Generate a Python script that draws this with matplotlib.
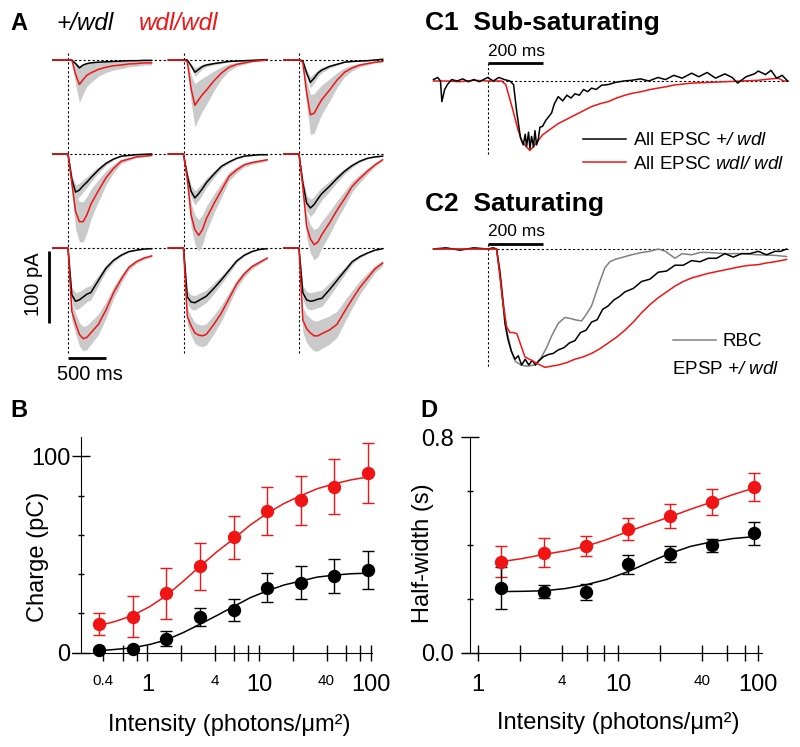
import matplotlib
matplotlib.use("Agg")
import matplotlib.pyplot as plt
import numpy as np
from matplotlib.ticker import FixedLocator, NullLocator

plt.rcParams['font.family'] = ['Liberation Sans', 'DejaVu Sans']
# only the genotype parts of labels go through mathtext -> render them all italic
plt.rcParams['mathtext.fontset'] = 'custom'
plt.rcParams['mathtext.rm'] = 'Liberation Sans:italic'
plt.rcParams['mathtext.it'] = 'Liberation Sans:italic'

RED = '#f01414'
BAND = '#cacaca'

# ---------------- panel A: mean EPSCs, 9 flash strengths (pA, inward = positive depth)
a_time = [-200, 0, 50, 100, 150, 200, 250, 300, 400, 500, 600, 700, 800, 900, 1000, 1100]
a_het = [
    [0, 0, 0, 5, 11, 7, 5, 4, 3, 2.5, 2, 1.5, 1, 1, 0.5, 0.5],
    [0, 0, 0, 8, 17, 13, 9, 7, 5, 3.5, 2, 1.5, 1, 0.5, 0, -0.5],
    [0, 0, 1, 18, 31, 25, 18, 14, 9, 6, 3, 2, 1.5, 1, 0, -1],
    [0, 0, 35, 53, 50, 44, 39, 33, 22, 13, 7, 3, 2, 1, 0.5, 0],
    [0, 0, 30, 52, 61, 55, 48, 40, 28, 17, 11, 6, 3, 2, 1, 1],
    [0, 0, 40, 68, 75, 70, 62, 55, 45, 34, 24, 16, 10, 6, 4, 3],
    [0, 0, 65, 74, 72, 68, 64, 62, 45, 28, 17, 10, 5, 3, 1.5, 1],
    [0, 0, 68, 75, 76, 73, 70, 67, 56, 44, 31, 18, 10, 5, 2, 1],
    [0, 0, 62, 72, 74, 73, 71, 70, 58, 45, 32, 19, 12, 7, 3, 1],
]
a_mut = [
    [0, 0, 0, 20, 34, 27, 21, 18, 13, 10, 8, 7, 5.5, 5, 4, 4],
    [0, 0, 2, 40, 63, 55, 48, 42, 29, 18, 10, 6, 4, 2, 1, 0],
    [0, 0, 3, 45, 76, 74, 64, 55, 42, 28, 17, 11, 7, 5, 3, 2],
    [0, 0, 40, 80, 94, 94, 84, 70, 51, 33, 20, 10, 7, 4, 3, 2],
    [0, 0, 35, 85, 105, 113, 105, 90, 69, 50, 31, 22, 15, 12, 10, 8],
    [0, 0, 45, 100, 118, 126, 122, 112, 96, 78, 62, 45, 34, 24, 15, 8],
    [0, 0, 88, 105, 120, 126, 124, 118, 106, 86, 62, 43, 27, 19, 14, 11],
    [0, 0, 95, 108, 118, 121, 122, 120, 106, 90, 70, 50, 36, 26, 20, 14],
    [0, 0, 100, 112, 118, 122, 122, 119, 114, 106, 88, 71, 55, 42, 29, 21],
]
a_het_sem = [4, 6, 8, 10, 10, 12, 12, 10, 12]
a_mut_sem = [25, 30, 28, 28, 22, 21, 17, 15, 21]

# ---------------- panel C: normalised traces (peak = -1)
c1_het_t = [-195, -180, -170, -165, -155, -145, -130, -110, -90, -70, -50, -30, -10, 0, 20, 40, 60, 80,
            93, 105, 118, 128, 135, 140, 147, 152, 158, 165, 170, 176, 182, 188, 197, 210, 220, 230,
            240, 254, 270, 285, 300, 314, 330, 345, 360, 374, 390, 410, 434, 460, 490, 518, 550, 580,
            613, 640, 670, 700, 734, 760, 790, 820, 854, 880, 900, 930, 960, 974, 1000, 1020, 1040,
            1060, 1080]
c1_het = [0.02, 0.05, 0.0, -0.29, -0.12, -0.05, 0.02, 0.0, 0.03, -0.01, 0.02, -0.01, 0.03, 0.05, 0.0,
          0.05, 0.02, 0.0, -0.05, -0.45, -0.8, -0.9, -0.75, -0.92, -0.72, -0.95, -0.78, -0.93, -0.7,
          -0.9, -0.82, -0.65, -0.64, -0.55, -0.5, -0.45, -0.32, -0.22, -0.28, -0.2, -0.24, -0.18, -0.2,
          -0.12, -0.15, -0.1, -0.12, -0.06, -0.05, -0.02, 0.0, 0.01, 0.03, 0.0, 0.05, 0.02, 0.08, 0.04,
          0.11, 0.06, 0.12, 0.04, 0.1, 0.05, -0.03, 0.06, 0.1, 0.14, 0.09, 0.15, 0.04, 0.08, 0.0]
c1_mut_t = [-195, -150, -100, -50, 0, 50, 65, 90, 110, 124, 140, 152, 165, 180, 197, 225, 254, 284,
            314, 344, 374, 404, 434, 464, 494, 524, 554, 584, 613, 643, 673, 734, 794, 854, 914, 974,
            1020, 1046, 1065, 1080]
c1_mut = [0.0, 0.0, -0.01, 0.01, 0.0, 0.0, -0.05, -0.4, -0.7, -0.85, -0.93, -0.98, -0.92, -0.85, -0.76,
          -0.68, -0.6, -0.54, -0.48, -0.42, -0.36, -0.32, -0.29, -0.24, -0.2, -0.17, -0.15, -0.12, -0.1,
          -0.08, -0.056, -0.03, -0.02, -0.01, 0.0, 0.01, 0.03, 0.04, 0.0, 0.0]

c2_het_t = [-195, -150, -100, -50, 0, 20, 32, 44, 56, 62, 73, 85, 98, 110, 122, 135, 148, 160, 172, 182,
            200, 218, 236, 254, 275, 294, 314, 334, 354, 374, 394, 414, 434, 454, 474, 494, 524, 554,
            584, 614, 644, 674, 704, 734, 764, 794, 824, 854, 884, 914, 944, 974, 1004, 1034, 1055, 1076]
c2_het = [0.0, 0.01, -0.01, 0.01, 0.0, 0.01, 0.0, -0.21, -0.49, -0.64, -0.78, -0.88, -0.95, -0.92, -1.0,
          -0.95, -1.0, -0.96, -1.0, -0.97, -0.93, -0.91, -0.9, -0.87, -0.85, -0.81, -0.79, -0.72, -0.7,
          -0.63, -0.61, -0.52, -0.49, -0.44, -0.41, -0.37, -0.34, -0.28, -0.26, -0.2, -0.19, -0.14,
          -0.14, -0.1, -0.11, -0.08, -0.08, -0.04, -0.07, -0.04, -0.04, -0.02, -0.05, -0.02, -0.02, 0.0]
c2_mut_t = [-195, -100, 0, 32, 44, 56, 68, 80, 92, 105, 118, 134, 158, 180, 206, 230, 254, 284, 314,
            344, 374, 404, 434, 464, 494, 524, 554, 584, 614, 644, 674, 704, 734, 764, 794, 824, 854,
            884, 914, 944, 974, 1004, 1034, 1055, 1076]
c2_mut = [0.0, 0.0, 0.0, 0.0, -0.24, -0.49, -0.67, -0.72, -0.72, -0.73, -0.82, -0.93, -0.96, -0.99,
          -1.02, -1.01, -1.0, -0.98, -0.95, -0.93, -0.9, -0.86, -0.81, -0.76, -0.7, -0.63, -0.55, -0.48,
          -0.42, -0.37, -0.32, -0.28, -0.25, -0.23, -0.21, -0.195, -0.18, -0.165, -0.15, -0.14, -0.135,
          -0.12, -0.11, -0.1, -0.09]
c2_rbc_t = [-195, -100, 0, 32, 44, 56, 70, 85, 100, 120, 140, 170, 194, 212, 230, 254, 278, 300, 314,
            338, 356, 374, 398, 422, 440, 458, 488, 518, 554, 584, 614, 640, 674, 700, 734, 764, 794,
            854, 914, 974, 1034, 1076]
c2_rbc = [0.0, 0.0, 0.0, 0.0, -0.18, -0.45, -0.72, -0.88, -0.97, -1.0, -1.01, -1.0, -0.93, -0.85,
          -0.75, -0.64, -0.59, -0.6, -0.61, -0.62, -0.56, -0.49, -0.32, -0.16, -0.11, -0.09, -0.07,
          -0.05, -0.03, -0.02, 0.0, -0.02, -0.08, -0.04, -0.05, -0.03, -0.03, -0.04, -0.04, -0.05,
          -0.055, -0.065]

# ---------------- panel B: charge vs intensity
b_int = [0.37, 0.74, 1.47, 2.95, 5.9, 11.8, 23.6, 47, 94]
b_het = [1.4, 1.7, 7.0, 18.1, 21.8, 33.2, 35.7, 39.1, 42.2]
b_het_err = [0.5, 0.5, 3.8, 4.7, 5.7, 7.3, 8.5, 8.5, 9.8]
b_mut = [14.6, 18.4, 30.3, 43.9, 58.7, 72.3, 77.6, 84.4, 91.5]
b_mut_err = [5.5, 10.5, 13, 12, 11, 12.3, 12.5, 14, 15.5]
b_fit_x = [0.37, 0.52, 0.74, 1.05, 1.47, 2.1, 2.95, 4.2, 5.9, 8.3, 11.8, 16.7, 23.6, 33, 47, 66, 94]
b_fit_mut = [13.8, 16, 19, 23.5, 29, 36.5, 44, 51.5, 58, 65, 71, 76, 80, 83.5, 86, 88, 89.5]
b_fit_het = [1, 1.7, 2.5, 4.2, 6.5, 10.3, 14.5, 19, 23.5, 28, 31.5, 34.5, 36.5, 38.5, 39.5, 40.2, 40.5]

# ---------------- panel D: half-width vs intensity
d_int = [1.47, 2.95, 5.9, 11.8, 23.6, 47, 94]
d_het = [0.242, 0.227, 0.227, 0.328, 0.367, 0.399, 0.444]
d_het_err = [0.078, 0.023, 0.030, 0.035, 0.029, 0.025, 0.043]
d_mut = [0.338, 0.372, 0.397, 0.459, 0.508, 0.561, 0.615]
d_mut_err = [0.057, 0.054, 0.038, 0.041, 0.044, 0.048, 0.051]
d_fit_x = [1.47, 2.1, 2.95, 4.2, 5.9, 8.3, 11.8, 16.7, 23.6, 33, 47, 66, 94]
d_fit_mut = [0.338, 0.350, 0.365, 0.378, 0.395, 0.42, 0.45, 0.478, 0.505, 0.533, 0.56, 0.587, 0.612]
d_fit_het = [0.227, 0.228, 0.230, 0.238, 0.252, 0.272, 0.301, 0.336, 0.369, 0.395, 0.412, 0.424, 0.431]

W, H = 800, 747
fig = plt.figure(figsize=(W / 100, H / 100), dpi=100)


def box(x0, y0, x1, y1):
    # pixel box (top-left origin) -> figure fraction rect
    return [x0 / W, 1 - y1 / H, (x1 - x0) / W, (y1 - y0) / H]


# ================= A =================
ms_px = 500 / 38
pa_px = 100 / 72
col_step = 115.5 * ms_px
row_step = 94 * pa_px
axA = fig.add_axes(box(40, 45, 395, 380))
axA.set_xlim((40 - 68) * ms_px, (395 - 68) * ms_px)
axA.set_ylim(-(380 - 60) * pa_px, (60 - 45) * pa_px)
axA.axis('off')
dots = dict(color='k', lw=0.8, ls=(0, (2, 2)))
for r in range(3):
    axA.plot([-210, 2 * col_step + 1120], [-r * row_step] * 2, zorder=0.5, **dots)
for c in range(3):
    axA.plot([c * col_step] * 2, [10, -410], zorder=0.5, **dots)
t = np.array(a_time, dtype=float)
for i in range(9):
    r, c = divmod(i, 3)
    x = t + c * col_step
    for vals, sem in ((a_het[i], a_het_sem[i]), (a_mut[i], a_mut_sem[i])):
        d = np.array(vals, dtype=float)
        half = sem * np.clip(d, 0, None) / d.max()
        axA.fill_between(x, -d - half - r * row_step, -d + half - r * row_step,
                         color=BAND, lw=0, zorder=1)
    axA.plot(x, -np.array(a_het[i]) - r * row_step, color='k', lw=1.1, zorder=2)
    axA.plot(x, -np.array(a_mut[i]) - r * row_step, color=RED, lw=1.1, zorder=3)
# scale bars
axA.plot([-250, -250], [-265, -365], color='k', lw=2, solid_capstyle='butt')
axA.plot([0, 500], [-414, -414], color='k', lw=2, solid_capstyle='butt')
axA.text(290, -424, '500 ms', ha='center', va='top', fontsize=14.5)
axA.text(-460, -312, '100 pA', ha='center', va='center', rotation=90, fontsize=14.5)

fig.text(10 / W, 1 - 23 / H, 'A', fontsize=17, fontweight='bold', va='center')
fig.text(56 / W, 1 - 23 / H, '+/wdl', fontsize=17.5, style='italic', va='center')
fig.text(139 / W, 1 - 23 / H, 'wdl/wdl', fontsize=17.5, style='italic', va='center', color=RED)

# ================= C1 / C2 =================
c_ms_px = 3.6
c_xlim = ((430 - 487.7) * c_ms_px, (795 - 487.7) * c_ms_px)

axC1 = fig.add_axes(box(430, 45, 795, 160))
axC1.set_xlim(c_xlim)
axC1.set_ylim(-(160 - 81) / 71, (81 - 45) / 71)
axC1.axis('off')
axC1.plot([0, 1080], [0, 0], zorder=0.5, **dots)
axC1.plot([0, 0], [0.25, -1.04], zorder=0.5, **dots)
axC1.plot(c1_mut_t, c1_mut, color=RED, lw=1.1, label=r'All EPSC $wdl/\ wdl$')
axC1.plot(c1_het_t, c1_het, color='k', lw=1.1, label=r'All EPSC $+/\ wdl$')
axC1.plot([0, 200], [0.25, 0.25], color='k', lw=2, solid_capstyle='butt')
axC1.text(0, 0.41, '200 ms', fontsize=12.5, va='center', ha='left')
h, l = axC1.get_legend_handles_labels()
axC1.legend(h[::-1], l[::-1], loc='upper left', bbox_to_anchor=(583 / W, 1 - 132 / H),
            bbox_transform=fig.transFigure, frameon=False, fontsize=13.5, borderpad=0,
            borderaxespad=0, handlelength=2.3, handletextpad=0.35, labelspacing=0.35)
fig.text(425 / W, 1 - 23 / H, 'C1  Sub-saturating', fontsize=19, fontweight='bold', va='center')

axC2 = fig.add_axes(box(430, 225, 795, 380))
axC2.set_xlim(c_xlim)
axC2.set_ylim(-(380 - 249) / 116, (249 - 225) / 116)
axC2.axis('off')
axC2.plot([0, 1080], [0, 0], zorder=0.5, **dots)
axC2.plot([0, 0], [0.04, -1.03], zorder=0.5, **dots)
axC2.plot(c2_rbc_t, c2_rbc, color='#808080', lw=1.1, label='RBC')
axC2.plot(c2_het_t, c2_het, color='k', lw=1.1)
axC2.plot(c2_mut_t, c2_mut, color=RED, lw=1.1)
axC2.plot([0, 200], [0.043, 0.043], color='k', lw=2, solid_capstyle='butt')
axC2.text(0, 0.15, '200 ms', fontsize=12.5, va='center', ha='left')
axC2.legend(loc='upper left', bbox_to_anchor=(673 / W, 1 - 333 / H),
            bbox_transform=fig.transFigure, frameon=False, fontsize=13.5, borderpad=0,
            borderaxespad=0, handlelength=2.3, handletextpad=0.35)
fig.text(672 / W, 1 - 370 / H, r'EPSP $+/\ wdl$', fontsize=13.5, va='center')
fig.text(425 / W, 1 - 204 / H, 'C2  Saturating', fontsize=19, fontweight='bold', va='center')


# ================= B and D =================
def style_dose_axis(ax, ticks, big, small):
    ax.set_xscale('log')
    for s in ('top', 'right'):
        ax.spines[s].set_visible(False)
    ax.xaxis.set_major_locator(FixedLocator(ticks))
    ax.xaxis.set_minor_locator(NullLocator())
    labels = [('%g' % v) if (v in big or v in small) else '' for v in ticks]
    ax.set_xticklabels(labels)
    for v, lab in zip(ticks, ax.get_xticklabels()):
        lab.set_fontsize(17 if v in big else 11)
    ax.tick_params(axis='x', which='major', direction='inout', length=11, width=1, pad=10)
    ax.tick_params(axis='y', which='major', direction='inout', length=13, width=1, labelsize=17)
    ax.tick_params(axis='y', which='minor', direction='inout', length=5, width=1)
    ax.set_xlabel('Intensity (photons/\u03bcm\u00b2)', fontsize=17)


def dose_points(ax, x, y, err, color):
    ax.errorbar(x, y, yerr=err, fmt='none', ecolor=color, elinewidth=1, capsize=4.2,
                capthick=1, clip_on=False, zorder=3)
    ax.plot(x, y, 'o', color=color, ms=8.6, clip_on=False, zorder=4)


axB = fig.add_axes(box(71.7, 436.7, 371.7, 652.7))
axB.set_xlim(0.21, 101.5)
axB.set_ylim(0, 110)
axB.spines['left'].set_position(('data', 0.253))
style_dose_axis(axB, [0.4, 0.6, 0.8, 1, 2, 4, 6, 8, 10, 20, 40, 60, 80, 100],
                big=(1, 10, 100), small=(0.4, 4, 40))
axB.yaxis.set_major_locator(FixedLocator([0, 100]))
axB.yaxis.set_minor_locator(FixedLocator([20, 40, 60, 80]))
axB.tick_params(axis='y', which='major', pad=1)
axB.plot(b_fit_x, b_fit_mut, color=RED, lw=1.1, zorder=2)
axB.plot(b_fit_x, b_fit_het, color='k', lw=1.1, zorder=2)
dose_points(axB, b_int, b_mut, b_mut_err, RED)
dose_points(axB, b_int, b_het, b_het_err, 'k')
axB.set_ylabel('Charge (pC)', fontsize=17)
axB.yaxis.set_label_coords((38 - 71.7) / 300, (652.7 - 557) / 216)
axB.yaxis.label.set_va('center')
axB.xaxis.set_label_coords((229 - 71.7) / 300, (652.7 - 725) / 216)
axB.xaxis.label.set_va('center')
fig.text(10 / W, 1 - 411 / H, 'B', fontsize=17, fontweight='bold', va='center')

axD = fig.add_axes(box(461.7, 437.3, 761.7, 652.7))
axD.set_xlim(0.77, 106)
axD.set_ylim(0, 0.8)
axD.spines['left'].set_position(('data', 0.877))
style_dose_axis(axD, [1, 2, 4, 6, 8, 10, 20, 40, 60, 80, 100], big=(1, 10, 100), small=(4, 40))
axD.yaxis.set_major_locator(FixedLocator([0, 0.8]))
axD.yaxis.set_minor_locator(FixedLocator([0.2, 0.4, 0.6]))
axD.set_yticklabels(['0.0', '0.8'])
axD.tick_params(axis='y', which='major', pad=5)
axD.plot(d_fit_x, d_fit_mut, color=RED, lw=1.1, zorder=2)
axD.plot(d_fit_x, d_fit_het, color='k', lw=1.1, zorder=2)
dose_points(axD, d_int, d_mut, d_mut_err, RED)
dose_points(axD, d_int, d_het, d_het_err, 'k')
axD.set_ylabel('Half-width (s)', fontsize=17)
axD.yaxis.set_label_coords((423 - 461.7) / 300, (652.7 - 553) / 215.4)
axD.yaxis.label.set_va('center')
axD.xaxis.set_label_coords((618 - 461.7) / 300, (652.7 - 723) / 215.4)
axD.xaxis.label.set_va('center')
fig.text(420 / W, 1 - 411 / H, 'D', fontsize=17, fontweight='bold', va='center')

fig.savefig('out.png', dpi=100)
